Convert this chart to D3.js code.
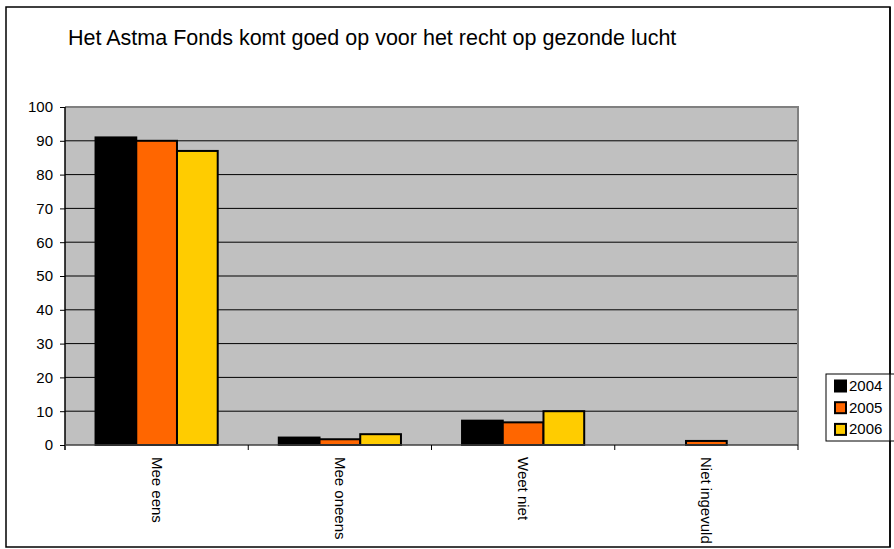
<!DOCTYPE html>
<html><head><meta charset="utf-8">
<script src="https://cdn.jsdelivr.net/npm/d3@7"></script>
<style>body{margin:0;background:#fff}svg{display:block}text{font-family:"Liberation Sans",Arial,sans-serif;fill:#000}</style>
</head><body>
<script>
const title = "Het Astma Fonds komt goed op voor het recht op gezonde lucht";
const categories = ["Mee eens", "Mee oneens", "Weet niet", "Niet ingevuld"];
const seriesNames = ["2004", "2005", "2006"];
const values2004 = [91, 2.2, 7.2, 0];
const values2005 = [90, 1.7, 6.7, 1.2];
const values2006 = [87, 3.2, 10, 0];
const colors = ["#000000", "#ff6600", "#ffcc00"];
const yTicks = [0, 10, 20, 30, 40, 50, 60, 70, 80, 90, 100];

const series = [values2004, values2005, values2006];
const W = 894, H = 549;
const FS = 15;
const svg = d3.select("body").append("svg").attr("width", W).attr("height", H);

// outer border
svg.append("rect").attr("x", 6).attr("y", 7).attr("width", 884).attr("height", 540)
  .attr("fill", "#fff").attr("stroke", "#000").attr("stroke-width", 1.5);

svg.append("text").attr("x", 68).attr("y", 45).attr("font-size", 21.5).text(title);

const L = 65, R = 798, T = 107, B = 445;
const x = d3.scaleBand().domain(categories).range([L, R]);
const xs = d3.scaleBand().domain(seriesNames).range([0, x.bandwidth()]).paddingInner(0).paddingOuter(0.75);
const y = d3.scaleLinear().domain([0, 100]).range([B, T]);

svg.append("rect").attr("x", L).attr("y", T).attr("width", R - L).attr("height", B - T).attr("fill", "#c0c0c0");

// gridlines
svg.append("g").selectAll("line").data(yTicks.filter(d => d > 0 && d < 100)).join("line")
  .attr("x1", L).attr("x2", R).attr("y1", d => y(d)).attr("y2", d => y(d))
  .attr("stroke", "#000").attr("stroke-width", 1);

// plot border top/right gray
svg.append("path").attr("d", `M${L},${T}H${R}V${B}`).attr("fill", "none").attr("stroke", "#808080").attr("stroke-width", 2);

// bars
seriesNames.forEach((s, si) => {
  svg.append("g").selectAll("rect").data(categories.map((c, i) => ({c, v: series[si][i]})).filter(d => d.v > 0)).join("rect")
    .attr("x", d => x(d.c) + xs(s)).attr("width", xs.bandwidth())
    .attr("y", d => y(d.v)).attr("height", d => B - y(d.v))
    .attr("fill", colors[si]).attr("stroke", "#000").attr("stroke-width", 2);
});

// y axis
const yAxis = d3.axisLeft(y).tickValues(yTicks).tickSize(5).tickPadding(7).tickFormat(d3.format("d"));
const gy = svg.append("g").attr("transform", `translate(${L},0)`).call(yAxis)
  .attr("font-size", FS).attr("font-family", '"Liberation Sans",Arial,sans-serif');
gy.select(".domain").attr("stroke", "#000").attr("stroke-width", 1.5).attr("d", `M0,${T}V${B + 5}`);
gy.selectAll(".tick line").attr("stroke", "#000");
gy.selectAll("text").attr("fill", "#000");

// x axis line and ticks
svg.append("line").attr("x1", L).attr("x2", R).attr("y1", B).attr("y2", B).attr("stroke", "#404040").attr("stroke-width", 1.5);
const bounds = categories.map(c => x(c) + x.bandwidth());
svg.append("g").selectAll("line").data(bounds).join("line")
  .attr("x1", d => d).attr("x2", d => d).attr("y1", B).attr("y2", B + 5)
  .attr("stroke", "#000").attr("stroke-width", 1);

// x labels rotated
svg.append("g").selectAll("text").data(categories).join("text")
  .attr("transform", d => `translate(${x(d) + x.bandwidth() / 2 - 1},457) rotate(90)`)
  .attr("font-size", FS).attr("dominant-baseline", "middle").text(d => d);

// legend
const lg = svg.append("g");
lg.append("rect").attr("x", 826).attr("y", 374).attr("width", 70).attr("height", 67)
  .attr("fill", "#fff").attr("stroke", "#000").attr("stroke-width", 1);
seriesNames.forEach((s, i) => {
  const cy = 386 + i * 21.7;
  lg.append("rect").attr("x", 835).attr("y", cy - 5.5).attr("width", 11).attr("height", 11)
    .attr("fill", colors[i]).attr("stroke", "#000").attr("stroke-width", 2);
  lg.append("text").attr("x", 849).attr("y", cy + 1).attr("dominant-baseline", "middle").attr("font-size", FS).text(s);
});
// redraw right border over legend
svg.append("line").attr("x1", 890).attr("x2", 890).attr("y1", 7).attr("y2", 547).attr("stroke", "#000").attr("stroke-width", 1.5);
</script>
</body></html>
